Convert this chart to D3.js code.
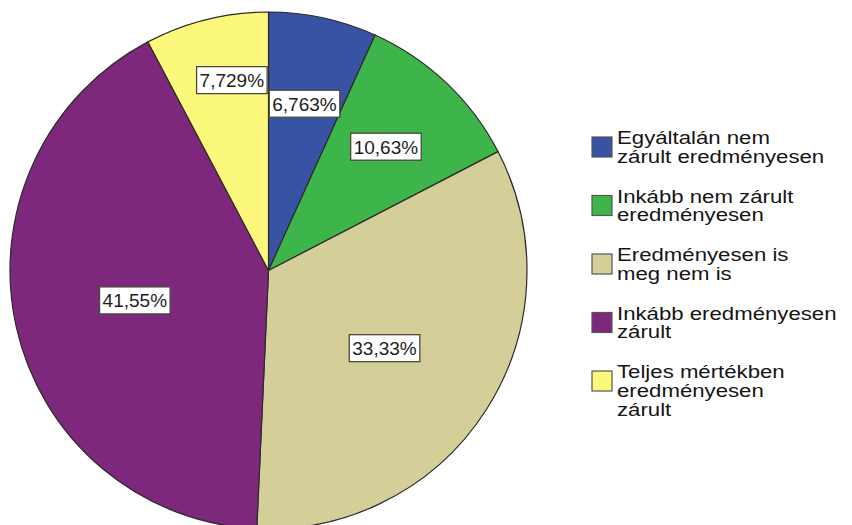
<!DOCTYPE html>
<html>
<head>
<meta charset="utf-8">
<script src="https://cdn.jsdelivr.net/npm/d3@7"></script>
<style>
html,body{margin:0;padding:0;background:#fff;}
svg{display:block;}
</style>
</head>
<body>
<svg id="chart" width="852" height="525"></svg>
<script>
const categories = [
  "Egyáltalán nem zárult eredményesen",
  "Inkább nem zárult eredményesen",
  "Eredményesen is meg nem is",
  "Inkább eredményesen zárult",
  "Teljes mértékben eredményesen zárult"
];
const legendLines = [
  ["Egyáltalán nem", "zárult eredményesen"],
  ["Inkább nem zárult", "eredményesen"],
  ["Eredményesen is", "meg nem is"],
  ["Inkább eredményesen", "zárult"],
  ["Teljes mértékben", "eredményesen", "zárult"]
];
const values = [6.763, 10.63, 33.33, 41.55, 7.729];
const valueLabels = ["6,763%", "10,63%", "33,33%", "41,55%", "7,729%"];
const colors = ["#3953a4", "#3db54a", "#d4ce98", "#7d287c", "#fbf87c"];

// layout (not data)
const labelRadiusFrac = [0.66, 0.66, 0.54, 0.53, 0.75];
const labelAngleShift = [0, 0, 1.2, 0, 3]; // degrees

const svg = d3.select("#chart");
const cx = 268.5, cy = 270.5, R = 258.5;

const pie = d3.pie().sort(null).value(d => d)(values);
const arc = d3.arc().innerRadius(0).outerRadius(R);

const g = svg.append("g").attr("transform", `translate(${cx},${cy})`);
g.selectAll("path.slice").data(pie).join("path")
  .attr("class", "slice")
  .attr("d", arc)
  .attr("fill", (d, i) => colors[i])
  .attr("stroke", "#2e2a2a")
  .attr("stroke-width", 1.2)
  .attr("stroke-linejoin", "round");

// labels
const lab = g.selectAll("g.lab").data(pie).join("g").attr("class", "lab")
  .attr("transform", (d, i) => {
    const a = (d.startAngle + d.endAngle) / 2 + labelAngleShift[i] * Math.PI / 180;
    const r = R * labelRadiusFrac[i];
    return `translate(${r * Math.sin(a)},${-r * Math.cos(a)})`;
  });
lab.append("text")
  .attr("text-anchor", "middle")
  .attr("dy", "0.36em")
  .attr("font-family", "'Liberation Sans', Arial, sans-serif")
  .attr("font-size", 19)
  .attr("fill", "#1e1e1e")
  .text((d, i) => valueLabels[i]);
lab.each(function () {
  const t = d3.select(this).select("text");
  const b = t.node().getBBox();
  d3.select(this).insert("rect", "text")
    .attr("x", b.x - 3).attr("y", -13.5)
    .attr("width", b.width + 6).attr("height", 27)
    .attr("fill", "#fff")
    .attr("stroke", "#4a4a3a")
    .attr("stroke-width", 1.3);
});

// legend
const legX = 592, legY0 = 144, itemStep = 58.5, lineH = 19, sw = 20;
const leg = svg.append("g");
legendLines.forEach((lines, i) => {
  const y = legY0 + i * itemStep;
  leg.append("rect")
    .attr("x", legX).attr("y", y - 7)
    .attr("width", sw).attr("height", sw)
    .attr("fill", colors[i])
    .attr("stroke", "#555")
    .attr("stroke-width", 1.2);
  const t = leg.append("text")
    .attr("transform", `translate(${legX + 25},${y}) scale(1.2,1)`)
    .attr("font-family", "'Liberation Sans', Arial, sans-serif")
    .attr("font-size", 18.5)
    .attr("fill", "#151515");
  lines.forEach((ln, j) => {
    t.append("tspan").attr("x", 0).attr("y", j * lineH).text(ln);
  });
});
</script>
</body>
</html>
